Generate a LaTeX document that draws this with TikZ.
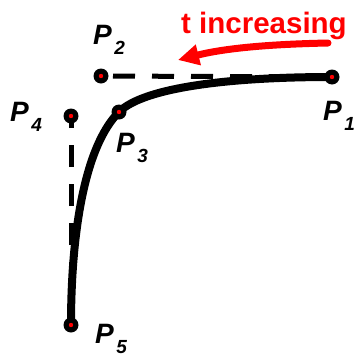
\documentclass[tikz,border=0pt]{standalone}
\usepackage{fontspec}
\setmainfont{Liberation Sans}
\usetikzlibrary{arrows.meta}
\tikzset{
  ctrlpt/.style={circle, fill=black, minimum size=15pt, inner sep=0pt,
    path picture={\fill[red] (path picture bounding box.center) circle (2.2pt);}},
  plabel/.style={anchor=base west, inner sep=0pt, font=\bfseries\itshape\fontsize{28}{28}\selectfont},
  curveline/.style={line width=8pt, line cap=round},
  dashline/.style={line width=5pt, dash pattern=on 22pt off 17pt},
  redarrow/.style={red, line width=7pt, line cap=round, -{Triangle[length=21pt,width=20pt]}}
}
\newcommand{\psub}[1]{\kern2.5pt\raisebox{-10pt}{\fontsize{19}{19}\selectfont #1}}
\begin{document}
\begin{tikzpicture}[x=1pt,y=-1pt]
\useasboundingbox (0,0) rectangle (358,362);
% control point positions
\coordinate (c1) at (332,77);
\coordinate (c2) at (101,76);
\coordinate (c3) at (119,112);
\coordinate (c4) at (71,116);
\coordinate (c5) at (71,325);
% dashed control polygon
\draw[dashline, dash phase=27pt] (c2) -- (c1);
\draw[dashline, dash phase=37pt] (c5) -- (c4);
% curve
\draw[curveline] (c1) .. controls (232,77) and (144,87) .. (c3)
  .. controls (84,147) and (71,235) .. (c5);
% points
\node[ctrlpt] (P1) at (c1) {};
\node[ctrlpt] (P2) at (c2) {};
\node[ctrlpt] (P3) at (c3) {};
\node[ctrlpt] (P4) at (c4) {};
\node[ctrlpt] (P5) at (c5) {};
% labels
\node[plabel] (L1) at (323,120) {P\psub{1}};
\node[plabel] (L2) at (93,44) {P\psub{2}};
\node[plabel] (L3) at (116,152) {P\psub{3}};
\node[plabel] (L4) at (10,121) {P\psub{4}};
\node[plabel] (L5) at (95,343) {P\psub{5}};
% t increasing
\node[anchor=base west, inner sep=0pt, text=red, font=\bfseries\fontsize{29.5}{29.5}\selectfont] (T) at (181,33) {t increasing};
\coordinate (AR) at (328,43);
\coordinate (AT) at (178,60);
\draw[redarrow] (AR) .. controls (280,44) and (230,47) .. (AT);
\end{tikzpicture}
\end{document}
